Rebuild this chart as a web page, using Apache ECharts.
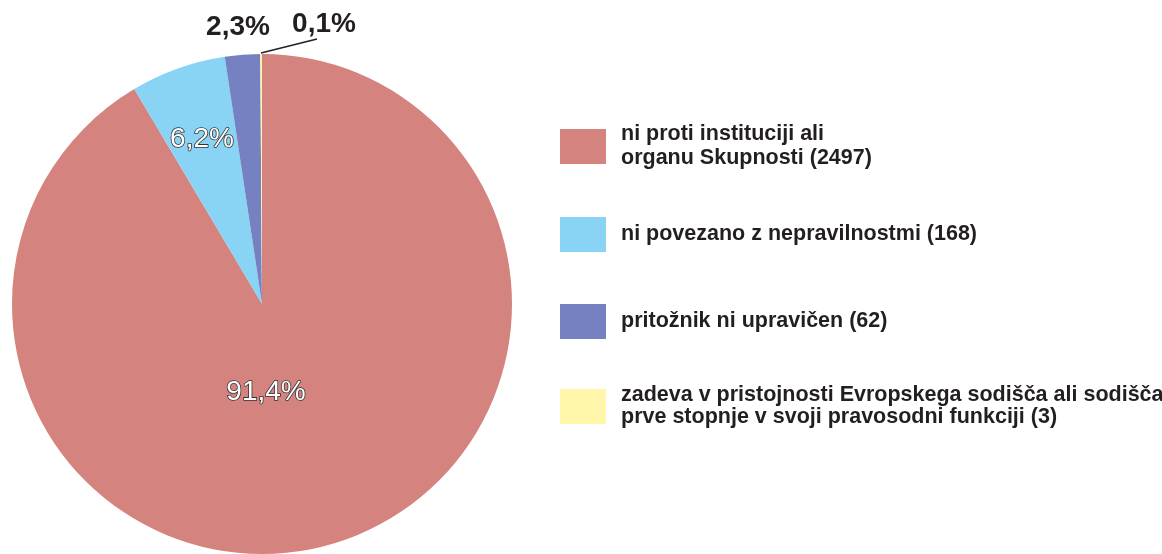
<!DOCTYPE html>
<html>
<head>
<meta charset="utf-8">
<script src="https://cdn.jsdelivr.net/npm/echarts@6/dist/echarts.min.js"></script>
<style>
html,body{margin:0;padding:0;background:#fff;}
#chart{width:1162px;height:554px;}
</style>
</head>
<body>
<div id="chart"></div>
<script>
// ---- data ----
const categories = [
  'ni proti instituciji ali\norganu Skupnosti',
  'ni povezano z nepravilnostmi',
  'pritožnik ni upravičen',
  'zadeva v pristojnosti Evropskega sodišča ali sodišča\nprve stopnje v svoji pravosodni funkciji'
];
const values = [2497, 168, 62, 3];
const percentLabels = ['91,4%', '6,2%', '2,3%', '0,1%'];

// ---- styles / layout ----
const colors = ['#d5837f', '#89d3f4', '#7581c0', '#fff6aa'];
const textDark = '#231f20';
const legendTops = [108.5, 214, 302, 377];
const legendPadTop = [28, 17, 15, 15];
const legendLineHeight = [24, 24, 24, 22];
const labelPos = [[266, 392], [202, 139], [238, 27], [324, 24]];
const leaderLine = [[261, 53], [289, 46], [317, 39]];

const chart = echarts.init(document.getElementById('chart'), null, {renderer: 'canvas'});

const pieData = categories.map((name, i) => {
  const outside = i >= 2;
  return {
    name: name,
    value: values[i],
    itemStyle: {color: colors[i]},
    label: outside ? {
      position: 'outside',
      color: textDark,
      fontSize: 28,
      fontWeight: 'bold',
      fontFamily: 'Liberation Sans, Arial, sans-serif'
    } : {
      position: 'inside',
      color: '#ffffff',
      fontSize: 28,
      fontWeight: 'normal',
      textBorderColor: '#333333',
      textBorderWidth: 1.6,
      fontFamily: 'Liberation Sans, Arial, sans-serif'
    },
    labelLine: {show: i === 3, lineStyle: {color: '#231f20', width: 1.3}}
  };
});

const legends = categories.map((name, i) => ({
  data: [name],
  orient: 'vertical',
  left: 560,
  top: legendTops[i],
  padding: 0,
  icon: 'rect',
  itemWidth: 46,
  itemHeight: 35,
  selectedMode: false,
  formatter: n => n + ' (' + values[categories.indexOf(n)] + ')',
  textStyle: {
    color: textDark,
    fontSize: 21.5,
    fontWeight: 'bold',
    fontFamily: 'Liberation Sans, Arial, sans-serif',
    lineHeight: legendLineHeight[i],
    padding: [legendPadTop[i], 0, 0, 10]
  }
}));

chart.setOption({
  animation: false,
  backgroundColor: '#ffffff',
  legend: legends,
  series: [{
    type: 'pie',
    center: [262, 304],
    radius: 250,
    startAngle: 90,
    clockwise: true,
    avoidLabelOverlap: false,
    emphasis: {disabled: true},
    label: {
      show: true,
      formatter: p => percentLabels[p.dataIndex]
    },
    labelLine: {show: false},
    labelLayout: function (params) {
      const pos = labelPos[params.dataIndex];
      const out = {x: pos[0], y: pos[1], align: 'center', verticalAlign: 'middle'};
      if (params.dataIndex === 3) out.labelLinePoints = leaderLine;
      return out;
    },
    data: pieData
  }]
});
</script>
</body>
</html>
